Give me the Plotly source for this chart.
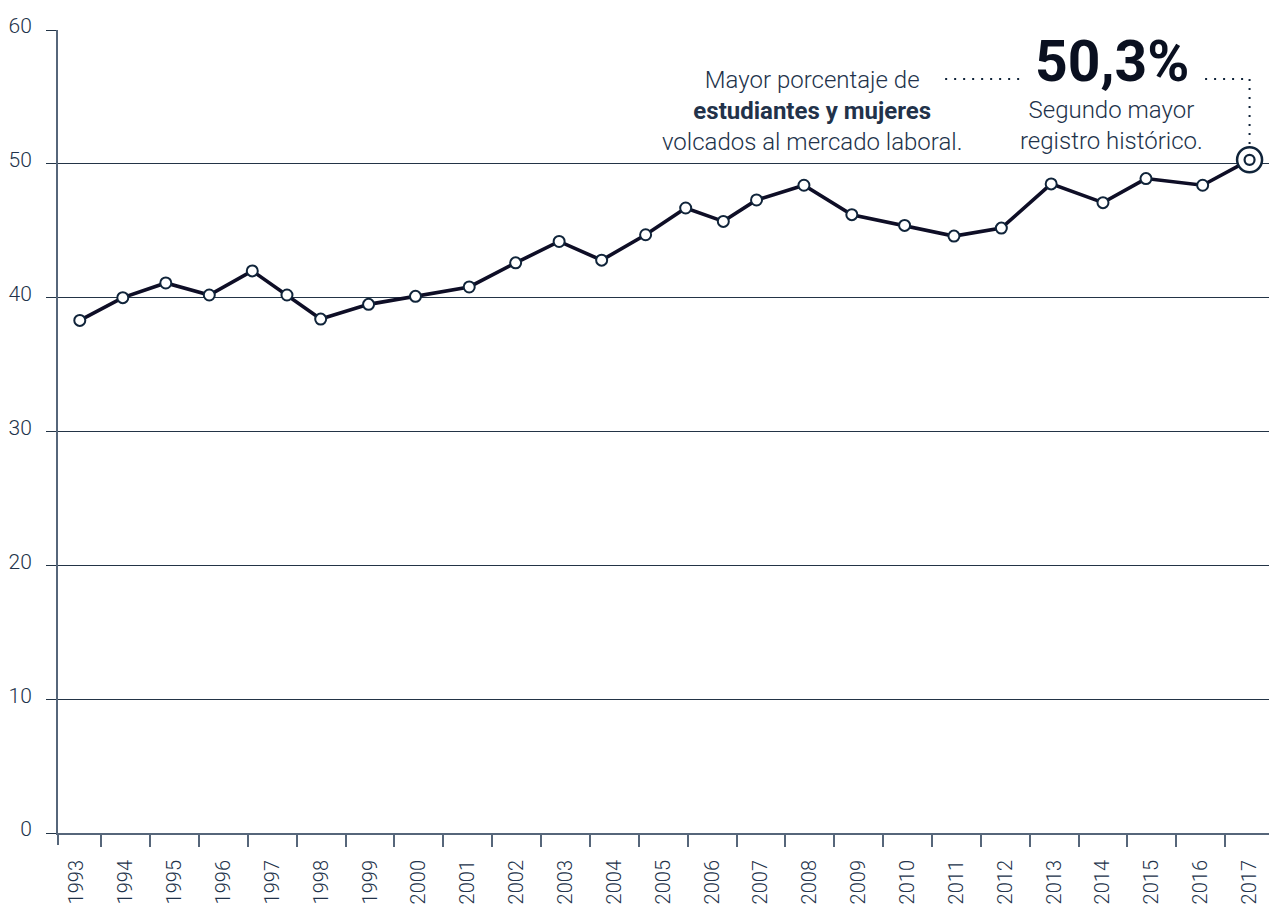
import plotly.graph_objects as go

# ---- data ----
x_pos = [1993.06, 1993.94, 1994.82, 1995.71, 1996.59, 1997.30, 1997.99, 1998.97,
         1999.93, 2001.03, 2001.98, 2002.87, 2003.74, 2004.64, 2005.46, 2006.23,
         2006.91, 2007.88, 2008.86, 2009.94, 2010.95, 2011.92, 2012.94, 2014.00,
         2014.88, 2016.04, 2017.00]
values = [38.3, 40.0, 41.1, 40.2, 42.0, 40.2, 38.4, 39.5,
          40.1, 40.8, 42.6, 44.2, 42.8, 44.7, 46.7, 45.7,
          47.3, 48.4, 46.2, 45.4, 44.6, 45.2, 48.5, 47.1,
          48.9, 48.4, 50.3]
years = list(range(1993, 2018))
year_labels = [str(y) for y in years]
y_ticks = [0, 10, 20, 30, 40, 50, 60]

LINE = "#0e0e26"
NAVY = "#10243a"
GRID = "#233446"
AXIS = "#56667a"
TXT = "#22324a"
FONT = "Roboto"

fig = go.Figure()
fig.add_trace(go.Scatter(x=x_pos, y=values, mode="lines",
                         line=dict(color=LINE, width=3.6), hoverinfo="skip"))
fig.add_trace(go.Scatter(x=x_pos[:-1], y=values[:-1], mode="markers",
                         marker=dict(size=11, color="white", line=dict(color=NAVY, width=2))))
fig.add_trace(go.Scatter(x=x_pos[-1:], y=values[-1:], mode="markers",
                         marker=dict(size=25, color="white", line=dict(color=NAVY, width=2.5))))
fig.add_trace(go.Scatter(x=x_pos[-1:], y=values[-1:], mode="markers",
                         marker=dict(size=10, color="white", line=dict(color=NAVY, width=2.2))))

# page body has an 8px margin, so the figure is sized/offset to compensate
fig.update_layout(
    width=1269, height=896,
    margin=dict(l=50, r=3, t=22, b=71, autoexpand=False),
    paper_bgcolor="white", plot_bgcolor="white",
    showlegend=False,
    font=dict(family=FONT, color=TXT),
)

fig.update_xaxes(
    range=[1992.614, 2017.5], automargin=False,
    tickmode="array", tickvals=years, ticktext=year_labels,
    tickangle=-90, ticks="", ticklabelstandoff=17,
    tickfont=dict(family=FONT, size=20, color=TXT, weight=300),
    showgrid=False, zeroline=False,
    showline=True, linecolor=AXIS, linewidth=2,
    minor=dict(tick0=1993.5, dtick=1, ticks="outside", ticklen=12,
               tickwidth=2, tickcolor=AXIS, showgrid=False),
)
fig.update_yaxes(
    range=[0, 60], automargin=False, tickmode="array", tickvals=y_ticks,
    ticks="outside", ticklen=10, tickcolor=GRID, tickwidth=1.3,
    ticklabelstandoff=10, ticklabelshift=-4,
    tickfont=dict(family=FONT, size=21, color=TXT, weight=300),
    showgrid=True, gridcolor=GRID, gridwidth=1.3,
    zeroline=False,
    showline=True, linecolor=AXIS, linewidth=2,
)

# small tick extending the y axis below the x axis
fig.add_shape(type="line", xref="paper", yref="paper", x0=0, x1=0,
              ysizemode="pixel", yanchor=0, y0=0, y1=-12,
              line=dict(color=AXIS, width=2))

# dotted connectors
dot = dict(color=NAVY, width=2, dash="2px,7px")
fig.add_shape(type="line", xref="x", yref="y", x0=2010.77, x1=2012.35, y0=56.34, y1=56.34, line=dot)
fig.add_shape(type="line", xref="x", yref="y", x0=2016.09, x1=2017.0, y0=56.34, y1=56.34, line=dot)
fig.add_shape(type="line", xref="x", yref="y", x0=2017.0, x1=2017.0, y0=56.34, y1=51.42, line=dot)

fig.add_annotation(
    x=2008.05, y=53.96, xref="x", yref="y", xanchor="center", yanchor="middle",
    text="Mayor porcentaje de<br><b>estudiantes y mujeres</b><br>volcados al mercado laboral.",
    showarrow=False, align="center",
    font=dict(family=FONT, size=24, color=TXT, weight=300),
)
fig.add_annotation(
    x=2014.19, y=57.65, xref="x", yref="y", xanchor="center", yanchor="middle",
    text="<b>50,3%</b>", showarrow=False,
    font=dict(family=FONT, size=57, color="#0a1020", weight=900),
)
fig.add_annotation(
    x=2014.17, y=52.85, xref="x", yref="y", xanchor="center", yanchor="middle",
    text="Segundo mayor<br>registro histórico.", showarrow=False, align="center",
    font=dict(family=FONT, size=24, color=TXT, weight=300),
)

fig.write_html("out.html")
